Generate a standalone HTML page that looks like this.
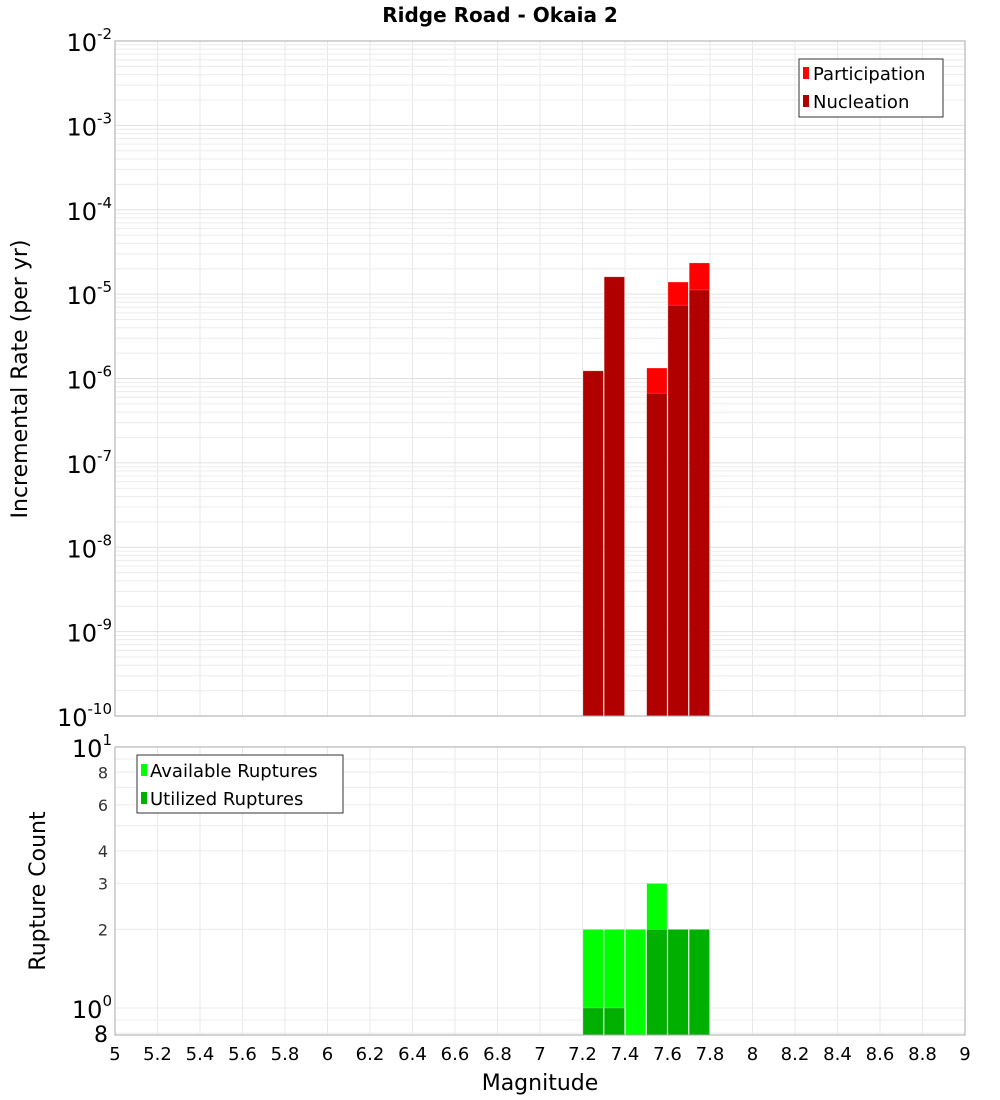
<!DOCTYPE html>
<html><head><meta charset="utf-8"><style>
body{margin:0;background:#fff;font-family:"Liberation Sans","DejaVu Sans",sans-serif}
svg{display:block}
</style></head><body>
<svg id="c" width="1000" height="1100" xmlns="http://www.w3.org/2000/svg" font-family="DejaVu Sans, Liberation Sans, sans-serif">
<text x="500" y="22" text-anchor="middle" font-size="20" font-weight="bold">Ridge Road - Okaia 2</text>
<g id="grid"></g>
<g id="bars"></g>
<rect x="115" y="41" width="850" height="675" fill="none" stroke="#aaa"/>
<rect x="115" y="747" width="850" height="288" fill="none" stroke="#aaa"/>
<g id="ticks"></g>
<text transform="translate(27,379) rotate(-90)" text-anchor="middle" font-size="22">Incremental Rate (per yr)</text>
<text transform="translate(45,891) rotate(-90)" text-anchor="middle" font-size="22">Rupture Count</text>
<text x="540" y="1090" text-anchor="middle" font-size="22">Magnitude</text>
<g>
<rect x="799" y="59" width="144" height="58" fill="#fff" stroke="#333"/>
<rect x="803" y="67" width="6" height="12" fill="#ff0000"/>
<text x="813" y="80" font-size="18">Participation</text>
<rect x="803" y="95" width="6" height="12" fill="#b00000"/>
<text x="813" y="108" font-size="18">Nucleation</text>
</g>
<g>
<rect x="137" y="755" width="206" height="58" fill="#fff" stroke="#333"/>
<rect x="141" y="764" width="6" height="12" fill="#00ff00"/>
<text x="150" y="777" font-size="18">Available Ruptures</text>
<rect x="141" y="792" width="6" height="12" fill="#00b000"/>
<text x="150" y="805" font-size="18">Utilized Ruptures</text>
</g>
</svg>
<script>
const mags=[7.25,7.35,7.45,7.55,7.65,7.75];
const participation=[1.23e-6,1.6e-5,0,1.33e-6,1.39e-5,2.34e-5];
const nucleation=[1.23e-6,1.6e-5,0,6.7e-7,7.4e-6,1.12e-5];
const available=[2,2,2,3,2,2];
const utilized=[1,1,0,2,2,2];
const xTicks=[5,5.2,5.4,5.6,5.8,6,6.2,6.4,6.6,6.8,7,7.2,7.4,7.6,7.8,8,8.2,8.4,8.6,8.8,9];
const topExps=[-10,-9,-8,-7,-6,-5,-4,-3,-2];
const botTicks=[8,6,4,3,2];

const NS="http://www.w3.org/2000/svg";
const X=m=>115+(m-5)*212.5;
const YT=v=>716-(Math.log10(v)+10)*84.375;
const YB=v=>1008-Math.log10(v)*261;
function mk(p,t,a){const e=document.createElementNS(NS,t);for(const k in a)e.setAttribute(k,a[k]);p.appendChild(e);return e;}
const grid=document.getElementById('grid'),bars=document.getElementById('bars'),ticks=document.getElementById('ticks');
// grids
xTicks.forEach(m=>{
 let l=mk(grid,'line',{x1:X(m),x2:X(m),y1:41,y2:716,stroke:'#e8e8e8'});
 
 
 let l2=mk(grid,'line',{x1:X(m),x2:X(m),y1:747,y2:1035,stroke:'#e8e8e8'});
 
 
 let t=mk(ticks,'text',{x:X(m),y:1060,'text-anchor':'middle','font-size':18});
 t.textContent=String(m);
 
 
});
for(let e=-10;e<-2;e++)for(let k=1;k<10;k++){
 const y=YT(k*Math.pow(10,e));
 let l=mk(grid,'line',{x1:115,x2:965,y1:y,y2:y,stroke:k==1?'#e0e0e0':'#ececec'});
 
 
}
for(let v of [0.8,0.9,1,2,3,4,5,6,7,8,9,10]){
 const y=YB(v);
 let l=mk(grid,'line',{x1:115,x2:965,y1:y,y2:y,stroke:'#ececec'});
 
 
}
topExps.forEach(e=>{
 const y=YT(Math.pow(10,e));
 let t=mk(ticks,'text',{x:112,y:y+10,'text-anchor':'end','font-size':24});
 t.innerHTML='10<tspan dy="-12" font-size="15">'+e+'</tspan>';
 
 
});
[[10,'1'],[1,'0']].forEach(([v,e])=>{
 let t=mk(ticks,'text',{x:112,y:YB(v)+10,'text-anchor':'end','font-size':24});
 t.innerHTML='10<tspan dy="-12" font-size="15">'+e+'</tspan>';
 
 
});
botTicks.forEach(v=>{
 let t=mk(ticks,'text',{x:108,y:YB(v)+6,'text-anchor':'end','font-size':16,fill:'#333'});
 t.textContent=v;
 
 
});
let t8=mk(ticks,'text',{x:108,y:1042,'text-anchor':'end','font-size':22});
t8.textContent='8';


const w=21.25;
function bar(m,v,fill,yf,base,name){
 if(!v||v<=0)return;
 const x=X(m)-w/2+0.5, y=Math.max(yf(v), name.startsWith('bar-p')||name.startsWith('bar-n')?41:747);
 let r=mk(bars,'rect',{x:x,y:y,width:w-1,height:base-y,fill:fill,stroke:'#fff','stroke-opacity':0.4,'stroke-width':0.5});
 
 
}
mags.forEach((m,i)=>{
 bar(m,participation[i],'#ff0000',YT,716,'bar-participation');
 bar(m,nucleation[i],'#b00000',YT,716,'bar-nucleation');
 bar(m,available[i],'#00ff00',YB,1035,'bar-available');
 bar(m,utilized[i],'#00b000',YB,1035,'bar-utilized');
});
</script>
</body></html>
